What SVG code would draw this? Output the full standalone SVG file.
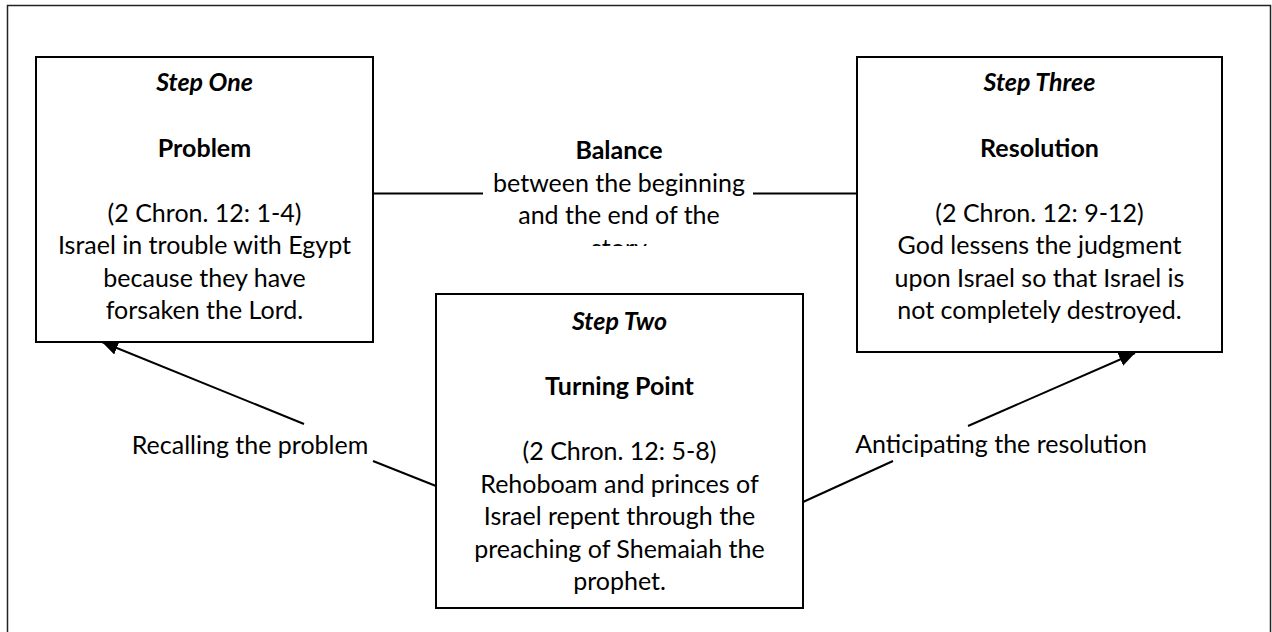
<svg xmlns="http://www.w3.org/2000/svg" width="1272" height="632" viewBox="0 0 1272 632">
<style>
.box{fill:#fff;stroke:#000;stroke-width:2}
.t{font-family:Lato,"Liberation Sans",sans-serif;font-size:25px;fill:#000;text-anchor:middle}
.bi{font-weight:bold;font-style:italic}
.b{font-weight:bold}
.ln{stroke:#000;stroke-width:2;fill:none}
</style>
<defs>
<marker id="ah" markerUnits="userSpaceOnUse" markerWidth="18" markerHeight="14" refX="16" refY="7" orient="auto">
<path d="M0,0 L16,7 L0,14 Z" fill="#000"/>
</marker>
<clipPath id="clipBal"><rect x="470" y="120" width="300" height="126"/></clipPath>
</defs>
<rect x="0" y="0" width="1272" height="632" fill="#fff"/>
<rect id="frame" x="7.5" y="5.5" width="1263" height="640" fill="none" stroke="#222" stroke-width="1.5"/>
<g id="connectors">
<line class="ln" x1="373" y1="193.5" x2="483" y2="193.5"/>
<line class="ln" x1="753" y1="193.5" x2="857" y2="193.5"/>
<line class="ln" x1="436" y1="486" x2="373" y2="461"/>
<line class="ln" x1="304" y1="424" x2="102" y2="342" marker-end="url(#ah)"/>
<line class="ln" x1="803" y1="502" x2="893" y2="461"/>
<line class="ln" x1="968" y1="426" x2="1135" y2="353" marker-end="url(#ah)"/>
</g>
<g id="step-one">
<rect class="box" x="36" y="57" width="337" height="285"/>
<text class="t bi" x="204.5" y="91">Step One</text>
<text class="t b" x="204.5" y="156.5">Problem</text>
<text class="t" x="204.5" y="221.5">(2 Chron. 12: 1-4)</text>
<text class="t" x="204.5" y="254">Israel in trouble with Egypt</text>
<text class="t" x="204.5" y="286.5">because they have</text>
<text class="t" x="204.5" y="319">forsaken the Lord.</text>
</g>
<g id="step-three">
<rect class="box" x="857" y="57" width="365" height="295"/>
<text class="t bi" x="1039.5" y="91">Step Three</text>
<text class="t b" x="1039.5" y="156.5">Resolution</text>
<text class="t" x="1039.5" y="221.5">(2 Chron. 12: 9-12)</text>
<text class="t" x="1039.5" y="254">God lessens the judgment</text>
<text class="t" x="1039.5" y="286.5">upon Israel so that Israel is</text>
<text class="t" x="1039.5" y="319">not completely destroyed.</text>
</g>
<g id="step-two">
<rect class="box" x="436" y="294" width="367" height="314"/>
<text class="t bi" x="619.5" y="330">Step Two</text>
<text class="t b" x="619.5" y="395">Turning Point</text>
<text class="t" x="619.5" y="460">(2 Chron. 12: 5-8)</text>
<text class="t" x="619.5" y="492.5">Rehoboam and princes of</text>
<text class="t" x="619.5" y="525">Israel repent through the</text>
<text class="t" x="619.5" y="557.5">preaching of Shemaiah the</text>
<text class="t" x="619.5" y="590">prophet.</text>
</g>
<g id="balance" clip-path="url(#clipBal)">
<text class="t b" x="619" y="159">Balance</text>
<text class="t" x="619" y="191.5">between the beginning</text>
<text class="t" x="619" y="224">and the end of the</text>
<text class="t" x="619" y="256.5">story</text>
</g>
<g id="label-recall">
<text class="t" x="250" y="454">Recalling the problem</text>
</g>
<g id="label-anticipate">
<text class="t" x="1001" y="453">Anticipating the resolution</text>
</g>
</svg>
